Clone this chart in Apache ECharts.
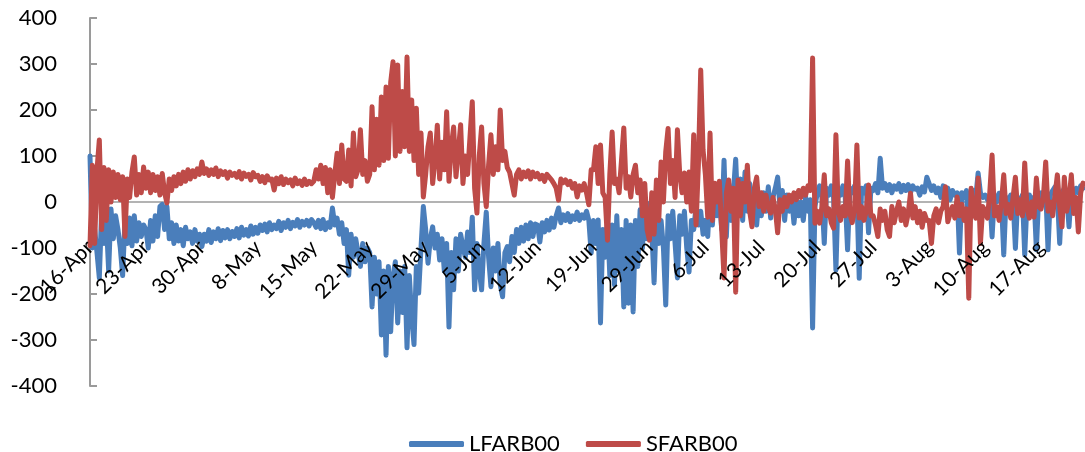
<!DOCTYPE html>
<html>
<head>
<meta charset="utf-8">
<script src="https://cdn.jsdelivr.net/npm/echarts@6/dist/echarts.min.js"></script>
<style>
html,body{margin:0;padding:0;background:#fff;}
#chart{width:1085px;height:452px;}
</style>
</head>
<body>
<div id="chart"></div>
<script>
// Week tick labels (one label every pointsPerWeek samples)
const weekLabels = ['16-Apr','23-Apr','30-Apr','8-May','15-May','22-May','29-May','5-Jun','12-Jun','19-Jun','29-Jun','6-Jul','13-Jul','20-Jul','27-Jul','3-Aug','10-Aug','17-Aug'];
const pointsPerWeek = 24;

// LFARB00 (blue), values, 24 samples per labelled week
const lfarb00 = [
  100, -100, -60, -110, -165, -20, -90, -40, -150, -15, -80, -30, -60, -100, -160, -40, -90, -35, -95, -30, -85, -45, -75, -50,
  -60, -100, -40, -85, -30, -75, -10, -5, -60, -10, -80, -45, -90, -50, -85, -60, -95, -55, -80, -65, -90, -60, -85, -70,
  -97, -70, -85, -60, -88, -65, -80, -58, -84, -62, -78, -60, -80, -64, -75, -58, -78, -55, -72, -60, -74, -52, -70, -55,
  -68, -50, -62, -48, -65, -45, -60, -50, -58, -42, -62, -45, -55, -40, -58, -44, -52, -38, -55, -42, -50, -40, -52, -38,
  -45, -55, -40, -58, -38, -60, -45, -55, -13, -50, -35, -70, -45, -90, -60, -159, -70, -120, -80, -110, -140, -90, -130, -100,
  -110, -228, -120, -200, -130, -289, -150, -333, -140, -282, -160, -130, -263, -150, -240, -140, -317, -160, -250, -310, -140, -198, -100, -10,
  -60, -133, -80, -54, -100, -70, -126, -80, -150, -90, -272, -110, -191, -80, -150, -70, -97, -120, -65, -110, -33, -191, -90, -150,
  -191, -90, -22, -120, -184, -100, -150, -90, -180, -206, -110, -97, -130, -75, -110, -60, -90, -55, -85, -50, -80, -45, -75, -48,
  -50, -87, -45, -65, -40, -61, -35, -55, -30, -13, -45, -28, -40, -25, -43, -30, -38, -22, -40, -28, -35, -20, -40, -111,
  -40, -90, -39, -263, -60, -120, -40, -160, -50, -180, -30, -150, -60, -228, -40, -220, -50, -239, -40, -140, -17, -100, -10, -80,
  -3, -60, -176, -20, -90, -40, -100, -224, -30, -80, -20, -90, -165, -30, -70, -20, -100, -152, -40, -60, -10, -50, -20, -70,
  -40, -75, 20, -50, 30, -30, 10, -60, 91, -76, 40, -40, 20, 93, -30, 50, -40, 65, -20, 40, -30, 20, -50, 10,
  -30, 20, -20, 33, -35, 10, 30, 54, -10, 25, -40, 15, -20, 10, -46, 5, -30, 0, -40, 11, -20, 5, -274, -10,
  20, 35, 10, -90, 30, 15, 35, 10, -148, 30, 15, 35, 10, -104, 30, 20, 35, 15, -166, 30, 20, 35, -67, 30,
  25, 40, 20, 95, 30, 40, 25, 38, 20, 35, 28, 40, 22, 36, 25, 38, 20, 35, 28, 30, 15, 33, 22, 54,
  40, 25, 35, 20, 30, 10, 35, 15, 30, 5, 25, 15, 20, -111, 20, 10, 25, -100, 15, 25, 10, 63, 20, 10,
  15, 5, 10, -76, 15, 0, 19, 5, -115, 10, 0, 15, 5, -101, 10, 0, 15, -115, 5, 15, 0, 10, -104, 15,
  20, 10, 25, -104, 15, 25, 33, 15, -90, 20, 30, 15, -54, 25, 15, 30, 20, 35, 30
];

// SFARB00 (red), values, 24 samples per labelled week
const sfarb00 = [
  -95, 80, -90, 70, 135, -60, 75, -40, 70, 0, 65, 10, 60, 5, 55, -75, 50, 10, 65, 98, 15, 60, 20, 76,
  30, 65, 20, 60, 25, 55, 15, 62, 20, -2, 50, 25, 55, 35, 60, 40, 65, 45, 70, 50, 68, 55, 72, 60,
  87, 62, 72, 58, 70, 60, 74, 55, 68, 60, 66, 52, 65, 58, 62, 54, 66, 50, 63, 56, 60, 48, 64, 55,
  58, 45, 55, 42, 57, 48, 50, 26, 52, 40, 55, 38, 50, 42, 48, 35, 52, 40, 46, 36, 50, 38, 45, 40,
  45, 70, 50, 80, 40, 75, 20, 70, 10, 60, 106, 40, 124, 50, 45, 113, 35, 150, 55, 70, 157, 60, 90, 45,
  60, 207, 70, 180, 80, 228, 90, 250, 95, 260, 305, 100, 298, 110, 240, 120, 315, 110, 222, 90, 204, 60, 150, 11,
  60, 120, 150, 40, 90, 167, 50, 130, 70, 196, 45, 120, 163, 55, 110, 168, 40, 100, 60, 140, 218, 30, -24, 100,
  163, 40, -10, 80, 146, 60, 120, 70, 200, 90, 110, 75, 65, 40, 15, 60, 70, 50, 65, 55, 68, 50, 65, 55,
  62, 50, 58, 45, 60, 54, 48, 40, 30, 4, 50, 42, 48, 38, 45, 30, 40, 11, 35, 26, 40, 20, -6, 70,
  70, 120, 40, 124, 20, 10, -83, 60, 152, 40, 50, 20, 90, 161, 30, 55, 11, 60, 80, 20, 48, -30, 40, -60,
  -83, 20, -70, 48, -40, 87, 0, 110, 160, 40, 90, 10, 157, 60, 20, 63, 0, 65, -20, 146, -50, 80, 287, 113,
  60, -33, 150, -40, 41, 0, 45, -60, -165, 20, 48, -20, 30, -196, 48, -30, 40, 0, 80, -20, -54, 30, 54, -10,
  20, -20, 15, -10, -24, 10, -15, -67, 5, -20, 10, -10, 15, 0, 20, 5, 25, 10, 30, 15, 35, 25, 313, -46,
  -20, -46, -10, 59, -30, -15, -45, -57, 146, -20, -40, -10, -30, 89, -25, -45, -15, 124, -35, -10, -40, -20, 37, -30,
  -30, -50, -75, -15, -40, -20, -60, -75, -10, -45, -20, 0, -40, -15, -50, -25, 19, -35, -10, -45, -20, -55, -25, -40,
  -40, -90, -30, -15, -45, -20, -10, 33, -43, -25, -10, -35, 11, -30, -5, -40, -15, -209, 30, -20, -35, 52, -90, -10,
  -20, -35, 20, 102, -30, -10, -40, 0, 59, -25, -5, -35, 10, 54, -25, 5, -30, 85, -15, -35, 0, -33, 52, -10,
  -15, 10, 87, -20, 0, -30, 15, 59, -10, -54, 54, -20, 5, 59, -25, 10, -65, 20, 41
];

const categories = lfarb00.map((v, i) => weekLabels[Math.floor(i / pointsPerWeek)] + '|' + (i % pointsPerWeek));

const FONT = 'Lato, "Open Sans", sans-serif';
const labelStyle = {
  interval: pointsPerWeek - 1,
  rotate: 45,
  margin: 42,
  fontSize: 21,
  color: '#000',
  fontFamily: FONT,
  formatter: v => v.split('|')[0]
};
const chart = echarts.init(document.getElementById('chart'), null, {renderer: 'canvas'});
chart.setOption({
  animation: false,
  backgroundColor: '#ffffff',
  textStyle: {fontFamily: FONT},
  grid: {left: 90, right: 2, top: 18, bottom: 66, containLabel: false, outerBoundsMode: 'none'},
  legend: {
    data: ['LFARB00', 'SFARB00'],
    left: 404,
    top: 428,
    icon: 'roundRect',
    itemWidth: 55,
    itemHeight: 6,
    itemGap: 26,
    textStyle: {fontSize: 22, color: '#000', fontFamily: FONT}
  },
  xAxis: [
    {
      type: 'category',
      data: categories,
      boundaryGap: false,
      offset: -184,
      z: 0,
      axisLine: {onZero: false, lineStyle: {color: '#9a9a9a', width: 1.5}},
      axisTick: {show: false},
      splitLine: {show: false},
      axisLabel: {show: false}
    },
    {
      type: 'category',
      data: categories,
      boundaryGap: false,
      position: 'bottom',
      offset: -184,
      z: 10,
      axisLine: {show: false, onZero: false},
      axisTick: {show: false},
      splitLine: {show: false},
      axisLabel: labelStyle
    }
  ],
  yAxis: {
    type: 'value',
    min: -400,
    max: 400,
    interval: 100,
    axisLine: {show: true, lineStyle: {color: '#9a9a9a', width: 2}},
    axisTick: {show: true, inside: true, length: 7, lineStyle: {color: '#9a9a9a', width: 2}},
    splitLine: {show: false},
    axisLabel: {fontSize: 22, color: '#000', margin: 33, fontFamily: FONT}
  },
  series: [
    {
      name: 'LFARB00',
      type: 'line',
      xAxisIndex: 0,
      data: lfarb00,
      symbol: 'none',
      sampling: null,
      color: '#4a7ebb',
      lineStyle: {width: 5, color: '#4a7ebb', cap: 'round', join: 'round'}
    },
    {
      name: 'SFARB00',
      type: 'line',
      xAxisIndex: 0,
      data: sfarb00,
      symbol: 'none',
      sampling: null,
      color: '#be4b48',
      lineStyle: {width: 5, color: '#be4b48', cap: 'round', join: 'round'}
    }
  ]
});
</script>
</body>
</html>
